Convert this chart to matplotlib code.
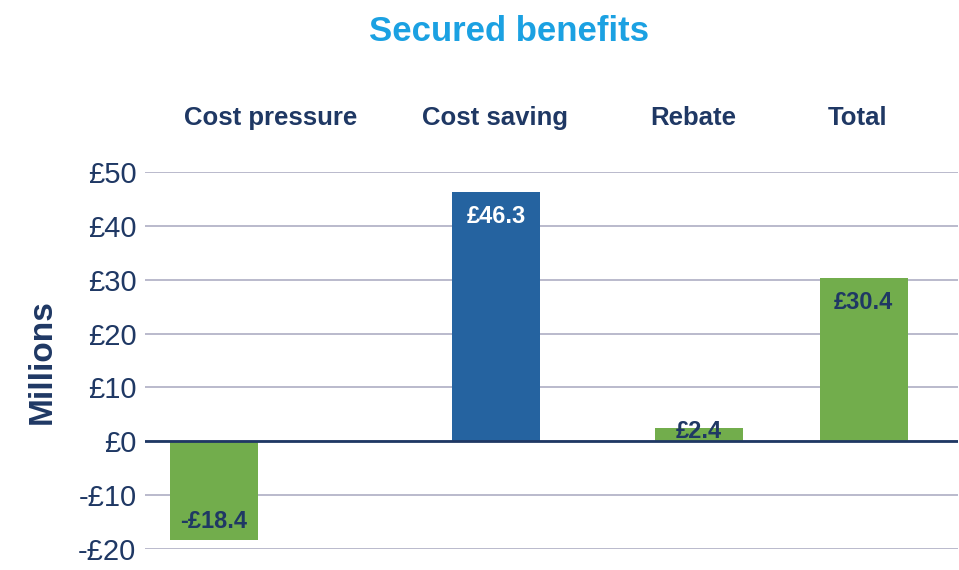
import matplotlib.pyplot as plt

plt.rcParams['font.family'] = ['Liberation Sans', 'DejaVu Sans']

categories = ['Cost pressure', 'Cost saving', 'Rebate', 'Total']
values = [-18.4, 46.3, 2.4, 30.4]
labels = ['-£18.4', '£46.3', '£2.4', '£30.4']
yticks = [-20, -10, 0, 10, 20, 30, 40, 50]

# layout (axes fraction) - bars are not evenly spaced in the original
bar_pos = [0.085, 0.432, 0.681, 0.884]
cat_pos = [0.155, 0.4305, 0.675, 0.876]
colors = ['#72ad4c', '#2563a0', '#72ad4c', '#72ad4c']
txt_colors = ['#1f3864', 'white', '#1f3864', '#1f3864']
navy = '#1f3864'

fig = plt.figure(figsize=(9.59, 5.70), dpi=100)
ax = fig.add_axes([0.151, 0.0368, 0.848, 0.6614])

ax.set_xlim(0, 1)
ax.set_ylim(-20, 50)
ax.set_yticks(yticks)
ax.set_yticklabels([('-£%d' % -v) if v < 0 else '£%d' % v for v in yticks],
                   fontsize=21, color=navy)
ax.tick_params(axis='y', length=0, pad=6)
ax.set_xticks([])
for s in ax.spines.values():
    s.set_visible(False)
ax.grid(axis='y', color='#b4b4c8', linewidth=1.3)
ax.set_axisbelow(True)
ax.axhline(0, color=navy, linewidth=2, zorder=3)

ax.bar(bar_pos, values, width=0.108, color=colors, zorder=2)

for x, v, t, c in zip(bar_pos, values, labels, txt_colors):
    if v < 0:
        y = v + 3.6
    elif v < 5:
        y = v - 0.5
    else:
        y = v - 4.6
    ax.text(x, y, t, ha='center', va='center', fontsize=17, fontweight='bold', color=c, zorder=4)

for x, c in zip(cat_pos, categories):
    ax.text(x, 1.143, c, transform=ax.transAxes, ha='center', va='center',
            fontsize=18.5, fontweight='bold', color=navy)

fig.text(0.531, 0.944, 'Secured benefits', ha='center', va='center',
         fontsize=25, fontweight='bold', color='#1ba1e2')
fig.text(0.044, 0.365, 'Millions', rotation=90, ha='center', va='center',
         fontsize=24, fontweight='bold', color=navy)

fig.savefig('out.png', dpi=100)
